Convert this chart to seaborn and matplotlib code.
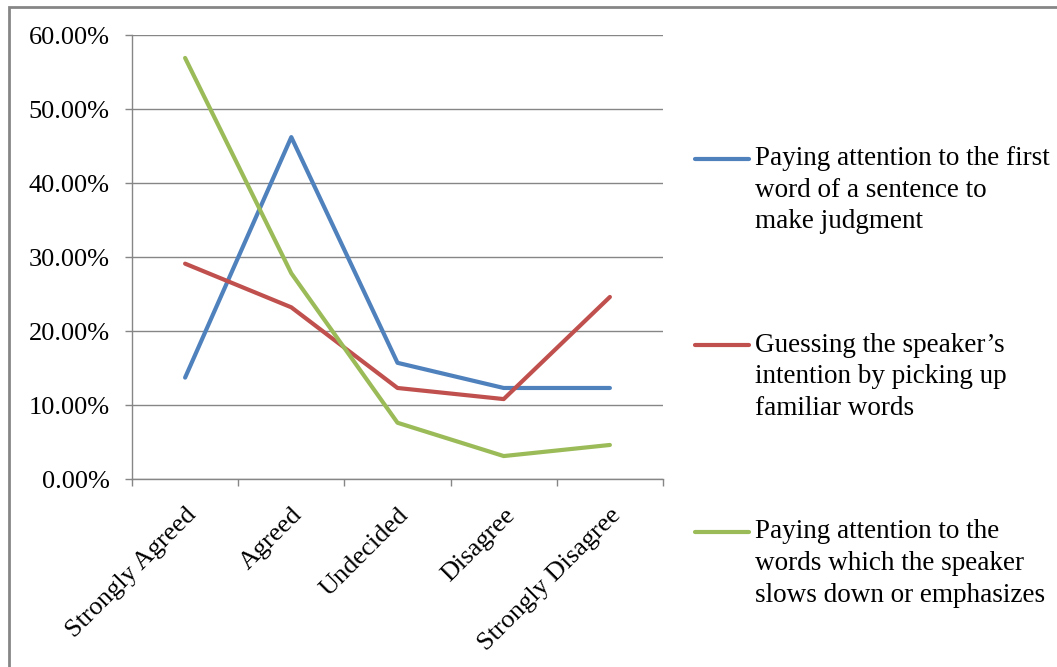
import matplotlib
matplotlib.use("Agg")
import matplotlib.pyplot as plt
from matplotlib.patches import Rectangle
from matplotlib.legend_handler import HandlerLine2D
from matplotlib.ticker import FixedLocator, PercentFormatter
import seaborn as sns
import pandas as pd

# Response categories and the share of respondents for each strategy (%)
categories = ["Strongly Agreed", "Agreed", "Undecided", "Disagree", "Strongly Disagree"]
first_word = [13.7, 46.2, 15.7, 12.3, 12.3]
guessing = [29.1, 23.2, 12.3, 10.8, 24.6]
emphasized = [56.9, 27.8, 7.6, 3.1, 4.6]
series_names = [
    "Paying attention to the first\nword of a sentence to\nmake judgment",
    "Guessing the speaker\u2019s\nintention by picking up\nfamiliar words",
    "Paying attention to the\nwords which the speaker\nslows down or emphasizes",
]
colors = ["#4F81BD", "#C0504D", "#9BBB59"]

df = pd.DataFrame({
    "category": categories * 3,
    "value": first_word + guessing + emphasized,
    "series": [series_names[0]] * 5 + [series_names[1]] * 5 + [series_names[2]] * 5,
})

TICK_FS = 19
LEG_FS = 19.5
LEG_LINESPACING = 1.35


class TopLineHandler(HandlerLine2D):
    """Legend line aligned with the first row of a three-row label."""

    def create_artists(self, legend, orig_handle, xdescent, ydescent,
                       width, height, fontsize, trans):
        artists = super().create_artists(legend, orig_handle, xdescent, ydescent,
                                         width, height, fontsize, trans)
        shift = fontsize * LEG_LINESPACING * 0.86
        for a in artists:
            a.set_ydata([y + shift for y in a.get_ydata()])
        return artists


sns.set_theme(style="white")
plt.rcParams["font.family"] = ["Liberation Serif", "DejaVu Serif"]

fig = plt.figure(figsize=(10.57, 6.67), dpi=100)
ax = fig.add_axes([132 / 1057, 188 / 667, (663 - 132) / 1057, (479 - 35) / 667])

sns.lineplot(data=df, x="category", y="value", hue="series", palette=colors,
             sort=False, linewidth=3.0, ax=ax, legend=True)

grid_c = "#868686"
ax.set_ylim(0, 60)
ax.set_xlim(-0.5, 4.5)
ax.yaxis.set_major_locator(FixedLocator(range(0, 61, 10)))
ax.yaxis.set_major_formatter(PercentFormatter(decimals=2))
ax.grid(axis="y", color=grid_c, linewidth=1)
ax.set_axisbelow(True)
ax.set_xlabel("")
ax.set_ylabel("")

for side in ["top", "right"]:
    ax.spines[side].set_visible(False)
for side in ["left", "bottom"]:
    ax.spines[side].set_color(grid_c)
    ax.spines[side].set_linewidth(1)

ax.tick_params(axis="y", which="major", direction="out", length=5, width=1,
               color=grid_c, labelsize=TICK_FS, pad=11, left=True)
ax.set_xticks(range(len(categories)))
ax.set_xticklabels(categories, rotation=45, ha="right", rotation_mode="anchor")
ax.tick_params(axis="x", which="major", length=0, labelsize=TICK_FS, pad=18)
ax.set_xticks([i - 0.5 for i in range(len(categories) + 1)], minor=True)
ax.tick_params(axis="x", which="minor", direction="out", length=5, width=1,
               color=grid_c, bottom=True)
for lbl in ax.get_yticklabels() + ax.get_xticklabels():
    lbl.set_color("black")

handles, labels = ax.get_legend_handles_labels()
leg = ax.legend(handles, labels, loc="upper left", bbox_to_anchor=(695 / 1057, 1 - 146 / 667),
                bbox_transform=fig.transFigure, frameon=False, fontsize=LEG_FS,
                handlelength=2.0, handletextpad=0.2, labelspacing=3.63, borderpad=0,
                borderaxespad=0, handler_map={h: TopLineHandler() for h in handles})
for t in leg.get_texts():
    t.set_linespacing(LEG_LINESPACING)
    t.set_color("black")

# Outer chart frame
fig.patches.append(Rectangle((9 / 1057, -0.1), 1.2, 1.1 - 7 / 667, transform=fig.transFigure,
                             fill=False, edgecolor=grid_c, linewidth=2))

fig.savefig("out.png", dpi=100)
